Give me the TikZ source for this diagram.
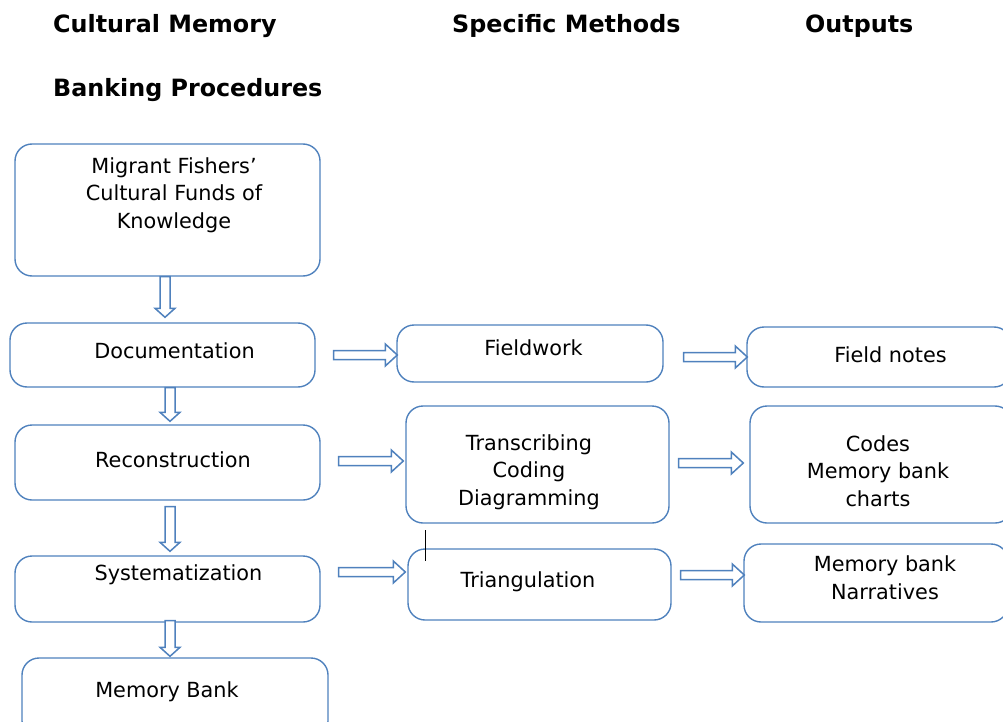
\documentclass[tikz,border=0pt]{standalone}
\usepackage{fontspec}
\setmainfont{DejaVu Sans}
\usetikzlibrary{calc}
\definecolor{boxblue}{RGB}{79,129,189}
\tikzset{
  box/.style={draw=boxblue, line width=1.4pt, rounded corners=17pt, inner sep=0pt},
  txt/.style={inner sep=0pt, align=center, font=\fontsize{20.8}{27.5}\selectfont},
  head/.style={inner sep=0pt, anchor=west, font=\fontsize{23.8}{28}\selectfont\bfseries},
  blk/.style={draw=boxblue, line width=1.5pt, fill=white, line join=miter}
}
% hollow block arrows: horizontal (rightwards) and vertical (downwards)
\newcommand\harrow[2]{%
  \draw[blk] let \p1=#1, \p2=#2 in
    (\x1,\y1+4.5pt) -- (\x2-12pt,\y1+4.5pt) -- (\x2-12pt,\y1+11pt) -- (\x2,\y1)
    -- (\x2-12pt,\y1-11pt) -- (\x2-12pt,\y1-4.5pt) -- (\x1,\y1-4.5pt) -- cycle;}
\newcommand\varrow[2]{%
  \draw[blk] let \p1=#1, \p2=#2 in
    (\x1-5pt,\y1) -- (\x1-5pt,\y2+9pt) -- (\x1-10pt,\y2+9pt) -- (\x1,\y2)
    -- (\x1+10pt,\y2+9pt) -- (\x1+5pt,\y2+9pt) -- (\x1+5pt,\y1) -- cycle;}
\begin{document}
\begin{tikzpicture}[x=1pt,y=1pt]
\useasboundingbox (0,0) rectangle (1003,-722);
\clip (0,0) rectangle (1003,-722);

% column headings
\node[head] (h1) at (53,-26) {Cultural Memory};
\node[head] (h2) at (53,-90) {Banking Procedures};
\node[head] (h3) at (452,-26) {Specific Methods};
\node[head] (h4) at (805,-26) {Outputs};

% procedure column
\node[box, minimum width=305pt, minimum height=132pt] (mig) at (167.5,-210) {};
\node[txt] (migt) at (174,-195) {Migrant Fishers’\\Cultural Funds of\\Knowledge};
\node[box, minimum width=305pt, minimum height=64pt] (doc) at (162.5,-355) {};
\node[txt] (doct) at (174.5,-351) {Documentation};
\node[box, minimum width=305pt, minimum height=75pt] (rec) at (167.5,-462.5) {};
\node[txt] (rect) at (173,-460) {Reconstruction};
\node[box, minimum width=305pt, minimum height=66pt] (sys) at (167.5,-589) {};
\node[txt] (syst) at (178.5,-575) {Systematization};
\node[box, minimum width=306pt, minimum height=80pt] (mem) at (175,-698) {};
\node[txt] (memt) at (167,-692) {Memory Bank};

% methods column
\node[box, minimum width=266pt, minimum height=57pt] (fw) at (530,-353.5) {};
\node[txt] (fwt) at (533.5,-348) {Fieldwork};
\node[box, minimum width=263pt, minimum height=117pt] (tr) at (537.5,-464.5) {};
\node[txt] (trt) at (529,-472) {Transcribing\\Coding\\Diagramming};
\node[box, minimum width=263pt, minimum height=71pt] (tri) at (539.5,-584.5) {};
\node[txt] (trit) at (528,-582) {Triangulation};

% outputs column
\node[box, minimum width=264pt, minimum height=60pt] (fn) at (879,-357) {};
\node[txt] (fnt) at (890.5,-355) {Field notes};
\node[box, minimum width=262pt, minimum height=117pt] (cd) at (881,-464.5) {};
\node[txt] (cdt) at (878,-471) {Codes\\Memory bank\\charts};
\node[box, minimum width=264pt, minimum height=78pt] (nr) at (876,-583) {};
\node[txt] (nrt) at (885,-577.5) {Memory bank\\Narratives};

% downward arrows
\varrow{($(mig.south)+(-2.5,0)$)}{($(doc.north)+(0,5)$)}
\varrow{($(doc.south)+(7.5,0)$)}{($(rec.north)+(0,3)$)}
\varrow{($(rec.south)+(2.5,-6)$)}{($(sys.north)+(0,4)$)}
\varrow{($(sys.south)+(2.5,2)$)}{($(mem.north)+(0,1)$)}

% rightward arrows
\harrow{($(doc.east)+(18,0)$)}{($(fw.west)+(1,-1.5)$)}
\harrow{($(rec.east)+(18,1.5)$)}{($(tr.west)+(-2,0)$)}
\harrow{($(sys.east)+(18,17)$)}{($(tri.west)+(-2,0)$)}
\harrow{($(fw.east)+(20,-3.5)$)}{($(fn.west)+(1,0)$)}
\harrow{($(tr.east)+(9,1.5)$)}{($(cd.west)+(-6,0)$)}
\harrow{($(tri.east)+(9,9.5)$)}{($(nr.west)+(1,0)$)}

% text cursor mark
\coordinate (c1) at (425,-530);
\coordinate (c2) at (425,-561);
\draw[black, line width=0.9pt] (c1) -- (c2);
\end{tikzpicture}
\end{document}
